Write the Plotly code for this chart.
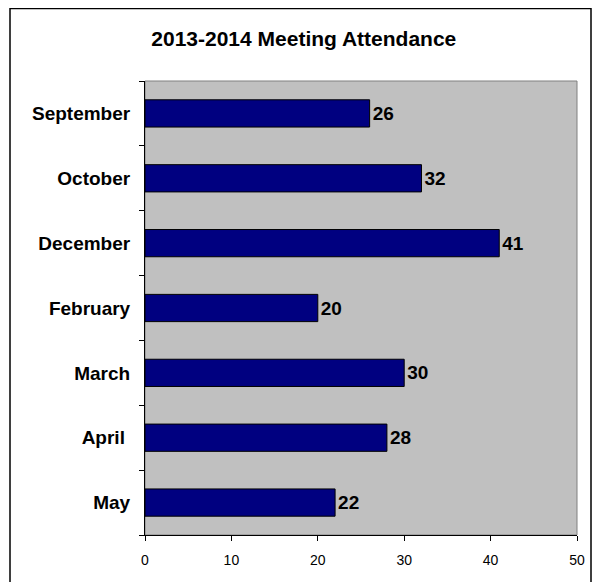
import plotly.graph_objects as go

months = ["September", "October", "December", "February", "March", "April ", "May"]
attendance = [26, 32, 41, 20, 30, 28, 22]
x_ticks = [0, 10, 20, 30, 40, 50]

# page body has an 8px margin, so the figure is 8px smaller and shifted
W, H = 594, 574
L, R, T, B = 137, 25, 73, 47
pw, ph = W - L - R, H - T - B
FONT = "Liberation Sans, Arial, sans-serif"

fig = go.Figure(go.Bar(
    y=months, x=attendance, orientation="h",
    marker=dict(color="#000080", line=dict(color="#000000", width=1)),
    text=[str(v) for v in attendance], textposition="outside",
    textfont=dict(family=FONT, size=19, color="#000000"),
    texttemplate="<b>%{text}</b>", cliponaxis=False,
))

fig.update_layout(
    width=W, height=H,
    margin=dict(l=L, r=R, t=T, b=B),
    paper_bgcolor="#FFFFFF", plot_bgcolor="#C0C0C0",
    bargap=0.58, showlegend=False,
    font=dict(family=FONT, color="#000000"),
    title=dict(text="<b>2013-2014 Meeting Attendance</b>", x=0.498,
               xanchor="center", y=1 - 31 / H, yanchor="middle",
               font=dict(size=21, color="#000000")),
    xaxis=dict(range=[0, 50], tickvals=x_ticks, showgrid=False, zeroline=False,
               showline=True, linecolor="#000000", linewidth=1,
               ticks="outside", ticklen=5, tickcolor="#000000",
               tickfont=dict(size=14), ticklabelstandoff=7, fixedrange=True),
    yaxis=dict(categoryorder="array", categoryarray=months, autorange="reversed",
               showgrid=False, zeroline=False, showline=True, linecolor="#000000", linewidth=1,
               ticks="outside", ticklen=5, tickcolor="#000000", tickson="boundaries",
               tickfont=dict(size=19), ticklabelstandoff=10,
               tickvals=months, ticktext=["<b>%s</b>" % m for m in months]),
    shapes=[
        dict(type="rect", xref="paper", yref="paper", x0=0, x1=1, y0=0, y1=1,
             line=dict(color="#808080", width=1), layer="below"),
        dict(type="rect", xref="paper", yref="paper",
             x0=(2 - L) / pw, x1=(583 - L) / pw,
             y0=(T + ph - 590) / ph, y1=(T + ph - 0.5) / ph,
             line=dict(color="#000000", width=1.5)),
    ],
)

fig.write_html("out.html")
